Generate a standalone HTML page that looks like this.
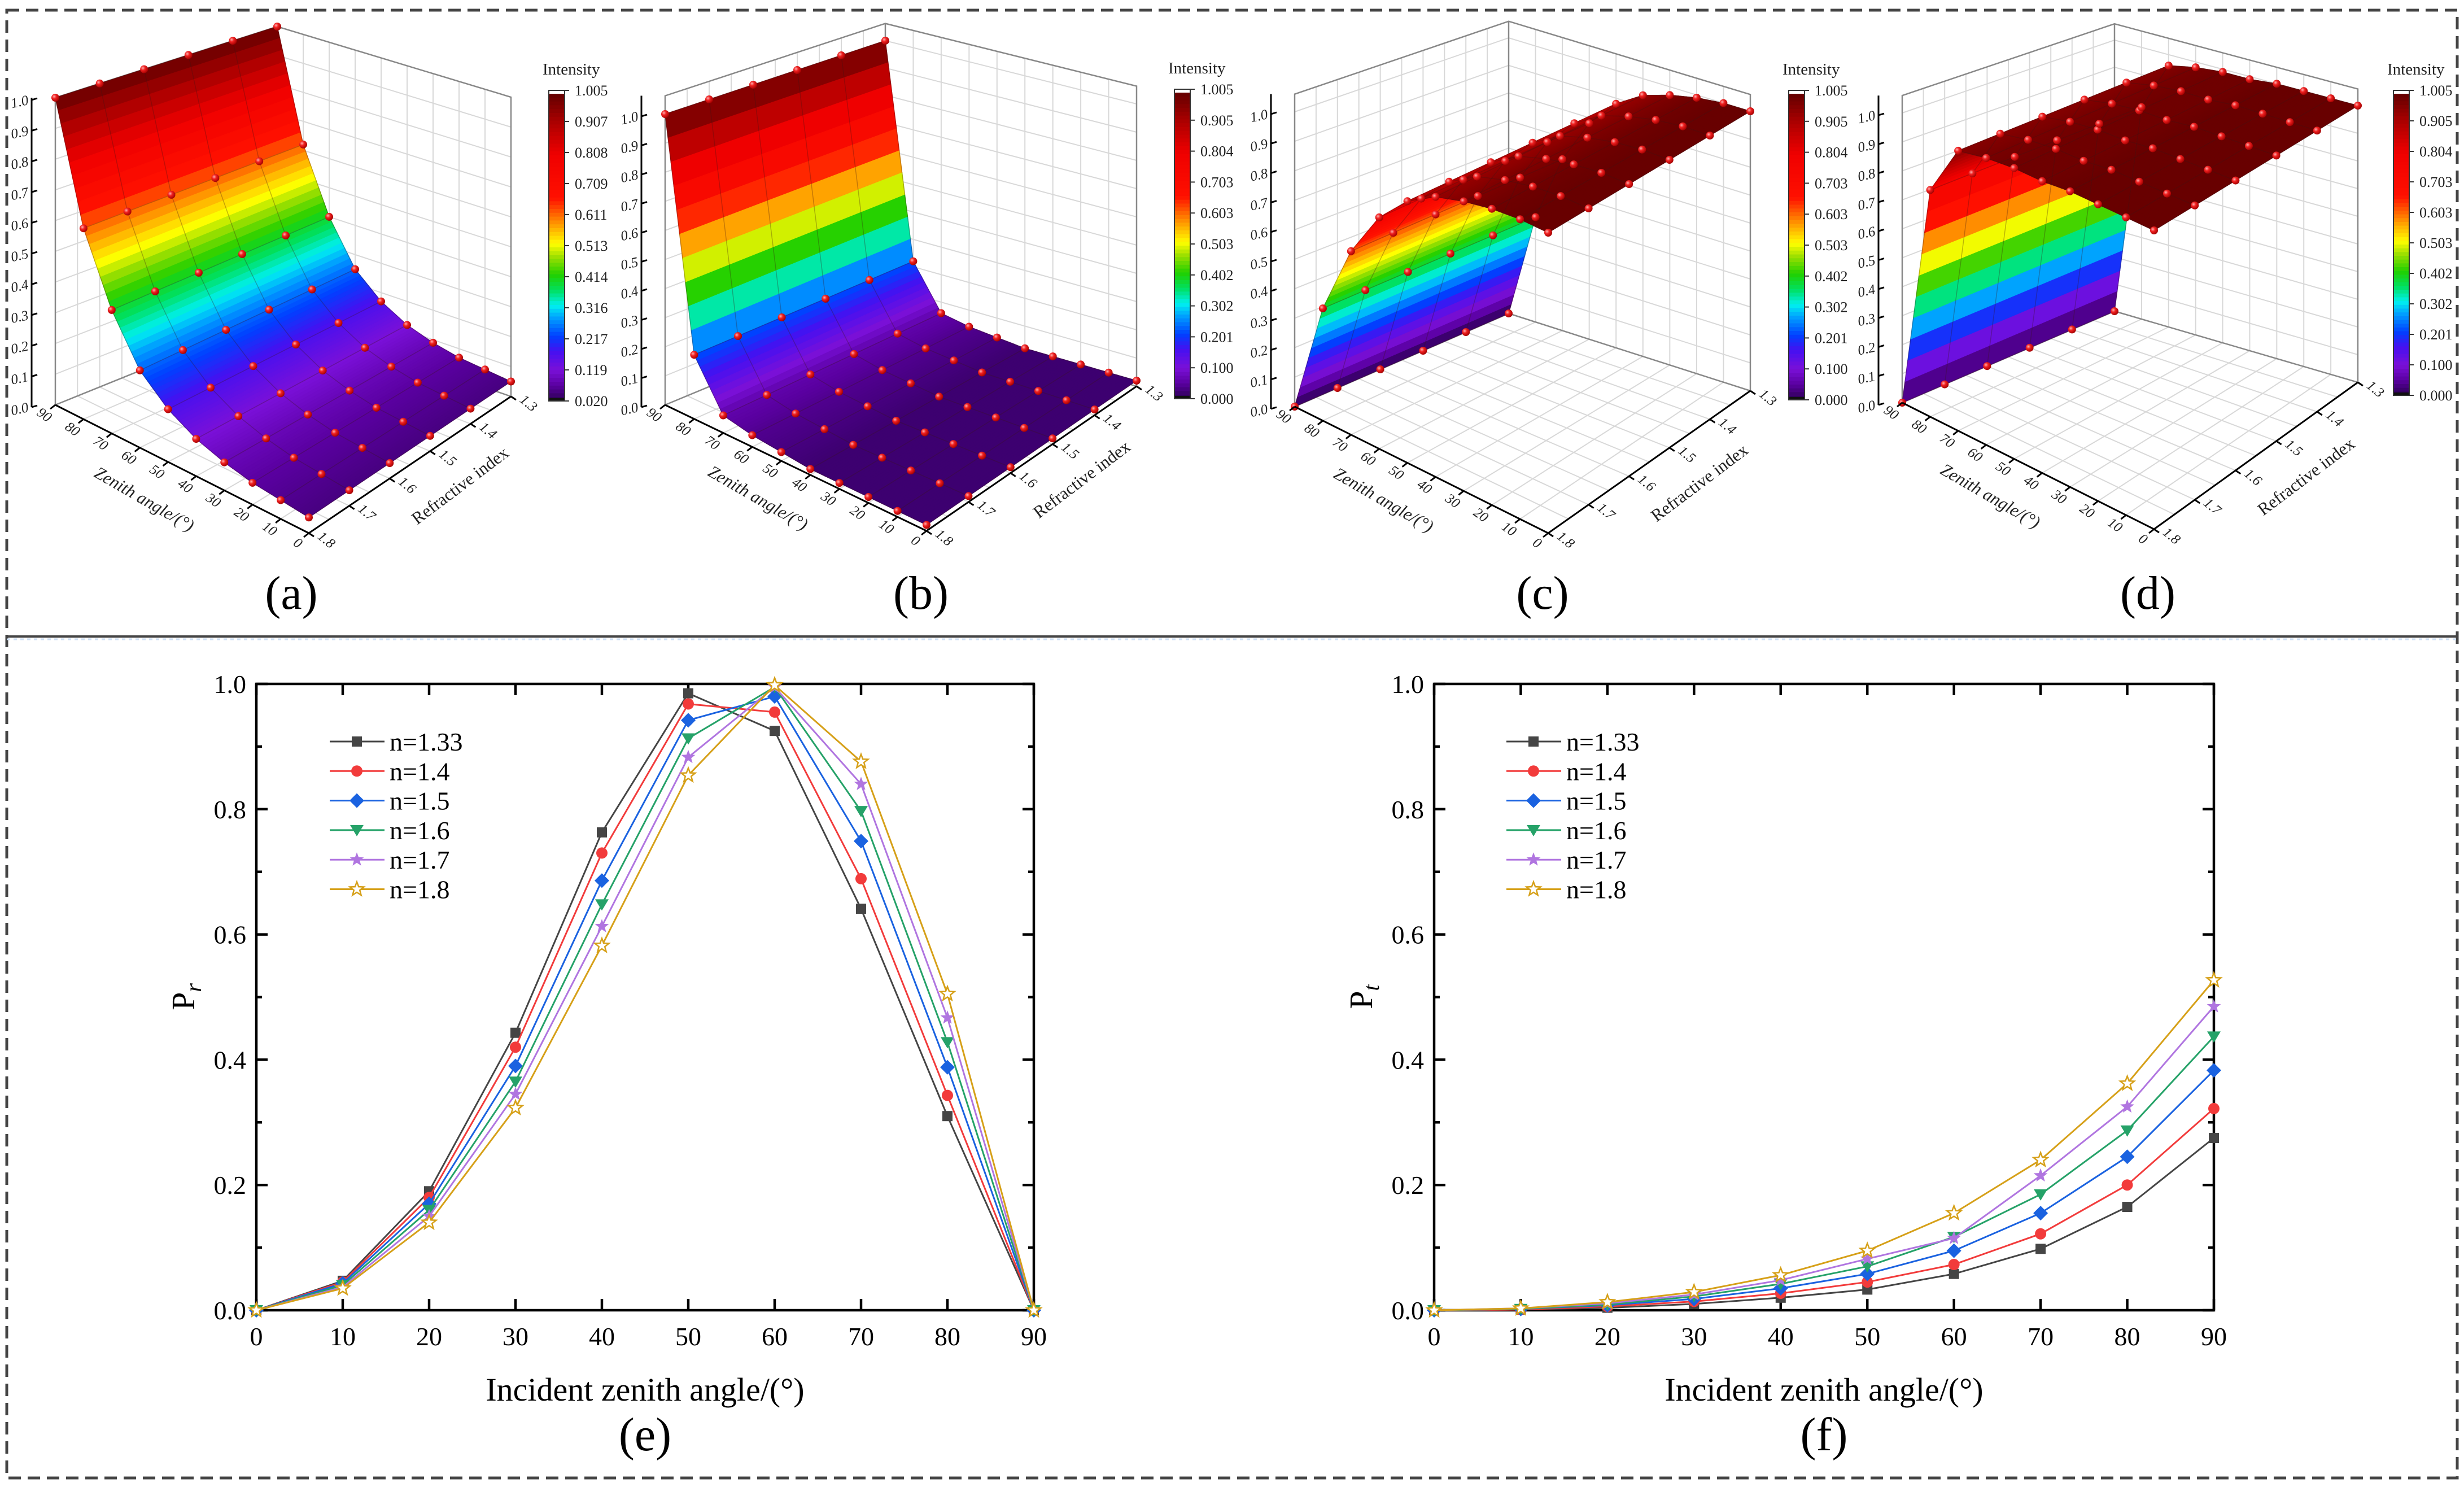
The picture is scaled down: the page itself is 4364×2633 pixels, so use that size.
<!DOCTYPE html>
<html><head><meta charset="utf-8"><style>
html,body{margin:0;padding:0;background:#fff;}
svg{display:block;font-family:"Liberation Serif",serif;}
text{font-family:"Liberation Serif",serif;}
</style></head><body>
<svg id="root" width="4364" height="2633" viewBox="0 0 4364 2633" xmlns="http://www.w3.org/2000/svg" font-family="Liberation Serif, serif">
<defs>
<radialGradient id="dotg" cx="0.35" cy="0.35" r="0.7"><stop offset="0" stop-color="#ffb0b0"/><stop offset="0.4" stop-color="#f02020"/><stop offset="1" stop-color="#a00000"/></radialGradient>
</defs>
<rect x="0" y="0" width="4364" height="2633" fill="#fff"/>
<path d="M12,18 H4352 V2617 H12 Z" fill="none" stroke="#444" stroke-width="5" stroke-dasharray="22,12"/>
<line x1="12" y1="1127" x2="4352" y2="1127" stroke="#444" stroke-width="4"/>
<line x1="12" y1="1132" x2="4352" y2="1132" stroke="#cfe0f5" stroke-width="3" stroke-dasharray="6,6"/>
<g id="top3d"></g>
<g id="chartE"></g>
<g id="chartF"></g>
</svg>
<script>
// ---------- 3D surface data ----------
const zenithAngles = [0,10,20,30,40,50,60,70,80,90];
const refrIndex = [1.3,1.4,1.5,1.6,1.7,1.8];
const surfA = [0.05,0.06,0.07,0.09,0.12,0.17,0.25,0.40,0.62,1.0];
const surfB = [0.02,0.02,0.02,0.02,0.02,0.03,0.04,0.06,0.22,1.0];
const surfC = [1.0,1.0,0.99,0.97,0.94,0.88,0.78,0.62,0.38,0.0];
const surfD = [1.0,1.0,1.0,1.0,0.99,0.99,0.98,0.96,0.78,0.0];
const cbLabelsA = ["1.005","0.907","0.808","0.709","0.611","0.513","0.414","0.316","0.217","0.119","0.020"];
const cbLabelsB = ["1.005","0.905","0.804","0.703","0.603","0.503","0.402","0.302","0.201","0.100","0.000"];
const zTicks3d = ["0.0","0.1","0.2","0.3","0.4","0.5","0.6","0.7","0.8","0.9","1.0"];

// ---------- line chart data ----------
const xAngles = [0,10,20,30,40,50,60,70,80,90];
const pr133 = [0,0.047,0.19,0.443,0.763,0.985,0.925,0.641,0.31,0];
const pr14  = [0,0.045,0.18,0.42,0.73,0.968,0.955,0.689,0.343,0];
const pr15  = [0,0.043,0.17,0.39,0.686,0.942,0.98,0.749,0.388,0];
const pr16  = [0,0.040,0.16,0.365,0.648,0.913,0.995,0.797,0.428,0];
const pr17  = [0,0.037,0.15,0.345,0.613,0.883,0.995,0.84,0.467,0];
const pr18  = [0,0.035,0.14,0.323,0.582,0.854,0.998,0.876,0.505,0];
const pt133 = [0,0.001,0.004,0.010,0.020,0.033,0.058,0.098,0.165,0.275];
const pt14  = [0,0.001,0.006,0.014,0.027,0.045,0.073,0.122,0.200,0.322];
const pt15  = [0,0.002,0.008,0.018,0.035,0.058,0.095,0.155,0.245,0.383];
const pt16  = [0,0.002,0.009,0.022,0.042,0.070,0.117,0.185,0.287,0.437];
const pt17  = [0,0.003,0.011,0.025,0.048,0.082,0.115,0.215,0.325,0.485];
const pt18  = [0,0.003,0.013,0.029,0.056,0.095,0.155,0.240,0.362,0.527];
const seriesNames = ["n=1.33","n=1.4","n=1.5","n=1.6","n=1.7","n=1.8"];
const xTickLabels = ["0","10","20","30","40","50","60","70","80","90"];
const yTickLabels = ["0.0","0.2","0.4","0.6","0.8","1.0"];

const NS="http://www.w3.org/2000/svg";
function mk(tag, attrs, parent){const e=document.createElementNS(NS,tag);for(const k in attrs)e.setAttribute(k,attrs[k]);parent.appendChild(e);return e;}

const cstops=[[0,[42,0,80]],[0.05,[90,0,160]],[0.10,[122,16,216]],[0.16,[70,16,240]],[0.21,[0,64,255]],[0.27,[0,160,255]],[0.31,[0,240,240]],[0.36,[0,224,96]],[0.41,[32,208,0]],[0.47,[160,224,0]],[0.51,[255,255,0]],[0.56,[255,176,0]],[0.61,[255,96,0]],[0.66,[255,16,0]],[0.80,[240,0,0]],[0.90,[176,0,0]],[0.96,[130,0,0]],[1,[100,0,0]]];
function cmap(t){t=Math.max(0,Math.min(1,t));for(let i=1;i<cstops.length;i++){if(t<=cstops[i][0]){const a=cstops[i-1],b=cstops[i];const f=(t-a[0])/(b[0]-a[0]);const c=a[1].map((v,k)=>Math.round(v+(b[1][k]-v)*f));return `rgb(${c[0]},${c[1]},${c[2]})`;}}return "rgb(100,0,0)";}

const panels=[
 {id:"a",vals:surfA,L:[98,717],F:[547,944],R:[905,702],B:[491,558],h:{L:544,F:555,R:530,B:511},zTop:1.0,vmin:0.02,vmax:1.005,cbx:972,cby0:160,cby1:710,cbl:cbLabelsA,lx:516},
 {id:"b",vals:surfB,L:[1178,717],F:[1641,940],R:[2013,684],B:[1568,555],h:{L:515,F:525,R:500,B:483},zTop:1.063,vmin:0,vmax:1.005,cbx:2080,cby0:158,cby1:706,cbl:cbLabelsB,lx:1631},
 {id:"c",vals:surfC,L:[2293,720],F:[2742,944],R:[3100,692],B:[2672,555],h:{L:522,F:532,R:495,B:488},zTop:1.06,vmin:0,vmax:1.005,cbx:3168,cby0:160,cby1:708,cbl:cbLabelsB,lx:2732},
 {id:"d",vals:surfD,L:[3369,713],F:[3815,937],R:[4176,677],B:[3745,551],h:{L:513,F:529,R:490,B:480},zTop:1.06,vmin:0,vmax:1.005,cbx:4239,cby0:160,cby1:700,cbl:cbLabelsB,lx:3804}
];

const top3d=document.getElementById('top3d');
panels.forEach(p=>{
  const g=mk('g',{},top3d);
  
  
  function proj(a,n,z){
    const u=a/90, v=(1.8-n)/0.5;
    const w=[(1-u)*(1-v),u*(1-v),(1-u)*v,u*v];
    const x=p.F[0]*w[0]+p.L[0]*w[1]+p.R[0]*w[2]+p.B[0]*w[3];
    const y=p.F[1]*w[0]+p.L[1]*w[1]+p.R[1]*w[2]+p.B[1]*w[3];
    const h=p.h.F*w[0]+p.h.L*w[1]+p.h.R*w[2]+p.h.B*w[3];
    return [x,y-z*h];
  }
  const pt=q=>q[0].toFixed(1)+','+q[1].toFixed(1);
  const wallL=mk('polygon',{points:[proj(90,1.8,0),proj(90,1.3,0),proj(90,1.3,p.zTop),proj(90,1.8,p.zTop)].map(pt).join(' '),fill:'#fff',stroke:'none'},g);
  
  
  const grid=mk('g',{stroke:'#d8d8d8','stroke-width':2,fill:'none'},g);
  
  
  for(let z=0.1;z<=p.zTop+1e-6;z+=0.1){
    mk('polyline',{points:[proj(90,1.8,z),proj(90,1.3,z),proj(0,1.3,z)].map(pt).join(' ')},grid);
  }
  for(let n=1.3;n<=1.8001;n+=0.05){
    mk('line',{x1:proj(90,n,0)[0],y1:proj(90,n,0)[1],x2:proj(90,n,p.zTop)[0],y2:proj(90,n,p.zTop)[1]},grid);
    mk('line',{x1:proj(90,n,0)[0],y1:proj(90,n,0)[1],x2:proj(0,n,0)[0],y2:proj(0,n,0)[1]},grid);
  }
  for(let a=0;a<=90;a+=10){
    mk('line',{x1:proj(a,1.3,0)[0],y1:proj(a,1.3,0)[1],x2:proj(a,1.3,p.zTop)[0],y2:proj(a,1.3,p.zTop)[1]},grid);
    mk('line',{x1:proj(a,1.3,0)[0],y1:proj(a,1.3,0)[1],x2:proj(a,1.8,0)[0],y2:proj(a,1.8,0)[1]},grid);
  }
  const frame=mk('polyline',{points:[proj(90,1.8,0),proj(90,1.8,p.zTop),proj(90,1.3,p.zTop),proj(0,1.3,p.zTop),proj(0,1.3,0),proj(90,1.3,0),proj(90,1.8,0)].map(pt).join(' '),fill:'none',stroke:'#888','stroke-width':2.5},g);
  
  
  mk('line',{x1:proj(90,1.3,0)[0],y1:proj(90,1.3,0)[1],x2:proj(90,1.3,p.zTop)[0],y2:proj(90,1.3,p.zTop)[1],stroke:'#888','stroke-width':2.5},g);
  const surf=mk('g',{},g);
  
  
  const S=10;
  const valAt=a=>{const i=Math.min(8,Math.floor(a/10));const f=(a-zenithAngles[i])/10;return p.vals[i]+(p.vals[i+1]-p.vals[i])*f;};
  for(let i=8;i>=0;i--){
    for(let s=S-1;s>=0;s--){
      const a0=zenithAngles[i]+10*s/S, a1=zenithAngles[i]+10*(s+1)/S;
      const z0=valAt(a0), z1=valAt(a1);
      const col=cmap(((z0+z1)/2-p.vmin)/(p.vmax-p.vmin));
      for(let j=0;j<5;j++){
        const n0=refrIndex[j], n1=refrIndex[j+1];
        mk('polygon',{points:[proj(a0,n0,z0),proj(a1,n0,z1),proj(a1,n1,z1),proj(a0,n1,z0)].map(pt).join(' '),fill:col,stroke:col,'stroke-width':1.2},surf);
      }
    }
  }
  const mesh=mk('g',{stroke:'rgba(60,20,20,0.3)','stroke-width':1.5,fill:'none'},g);
  
  
  zenithAngles.forEach((a,i)=>{mk('polyline',{points:refrIndex.map(n=>pt(proj(a,n,p.vals[i]))).join(' ')},mesh);});
  refrIndex.forEach(n=>{mk('polyline',{points:zenithAngles.map((a,i)=>pt(proj(a,n,p.vals[i]))).join(' ')},mesh);});
  const dots=mk('g',{},g);
  
  
  zenithAngles.forEach((a,i)=>refrIndex.forEach(n=>{const q=proj(a,n,p.vals[i]);const c=mk('circle',{cx:q[0].toFixed(1),cy:q[1].toFixed(1),r:7,fill:'url(#dotg)'},dots);}));
  const ax=mk('g',{stroke:'#000','stroke-width':3,fill:'none'},g);
  
  
  const L0=proj(90,1.8,0), F0=proj(0,1.8,0), R0=proj(0,1.3,0);
  mk('line',{x1:L0[0],y1:L0[1],x2:F0[0],y2:F0[1]},ax);
  mk('line',{x1:F0[0],y1:F0[1],x2:R0[0],y2:R0[1]},ax);
  const zx=L0[0]-42;
  const Ltop=proj(90,1.8,p.zTop);
  mk('line',{x1:zx,y1:L0[1]+4,x2:zx,y2:Ltop[1]},ax);
  const tx=mk('g',{'font-size':25,fill:'#222','font-style':'italic'},g);
  
  
  zTicks3d.forEach((lab,k)=>{const z=k*0.1;const y=proj(90,1.8,z)[1]+4;mk('line',{x1:zx,y1:y,x2:zx+10,y2:y-3,stroke:'#000','stroke-width':3},g);const t=mk('text',{x:zx-6,y:y+8,'text-anchor':'end',transform:`rotate(-12 ${zx-6} ${y})`},tx);t.textContent=lab;});
  zenithAngles.forEach(a=>{const q=proj(a,1.8,0);mk('line',{x1:q[0],y1:q[1],x2:q[0]-9,y2:q[1]+7,stroke:'#000','stroke-width':3},g);const x=q[0]-24,y=q[1]+24;const t=mk('text',{x:x,y:y,'text-anchor':'middle',transform:`rotate(35 ${x} ${y})`},tx);t.textContent=String(a);});
  refrIndex.forEach(n=>{const q=proj(0,n,0);mk('line',{x1:q[0],y1:q[1],x2:q[0]+9,y2:q[1]+6,stroke:'#000','stroke-width':3},g);const x=q[0]+26,y=q[1]+18;const t=mk('text',{x:x,y:y,'text-anchor':'middle',transform:`rotate(40 ${x} ${y})`},tx);t.textContent=n.toFixed(1);});
  const mz=[(L0[0]+F0[0])/2-72,(L0[1]+F0[1])/2+62];
  const zt=mk('text',{x:mz[0],y:mz[1],'font-size':31,'font-style':'italic','text-anchor':'middle',fill:'#222',transform:`rotate(30 ${mz[0]} ${mz[1]})`},g);
  zt.textContent='Zenith angle/(°)';
  
  
  const mr=[(F0[0]+R0[0])/2+95,(F0[1]+R0[1])/2+45];
  const rt=mk('text',{x:mr[0],y:mr[1],'font-size':31,'text-anchor':'middle',fill:'#222',transform:`rotate(-37 ${mr[0]} ${mr[1]})`},g);
  rt.textContent='Refractive index';
  
  
  const cg=mk('g',{},g);
  
  
  const N=80, hh=(p.cby1-p.cby0);
  for(let k=0;k<N;k++){mk('rect',{x:p.cbx,y:(p.cby0+6+(hh-6)*k/N).toFixed(2),width:28,height:((hh-6)/N+0.8).toFixed(2),fill:cmap(1-(k+0.5)/N)},cg);}
  mk('rect',{x:p.cbx,y:p.cby1-5,width:28,height:5,fill:'#111'},cg);
  mk('rect',{x:p.cbx,y:p.cby0,width:28,height:hh,fill:'none',stroke:'#333','stroke-width':2},cg);
  p.cbl.forEach((lab,k)=>{const y=p.cby0+hh*k/10;mk('line',{x1:p.cbx+28,y1:y,x2:p.cbx+36,y2:y,stroke:'#333','stroke-width':2},cg);const t=mk('text',{x:p.cbx+46,y:y+9,'font-size':26,fill:'#222'},cg);t.textContent=lab;});
  const it=mk('text',{x:p.cbx-11,y:p.cby0-28,'font-size':29,fill:'#222'},cg);
  it.textContent='Intensity';
  
  
  const pl=mk('text',{x:p.lx,y:1078,'font-size':84,'text-anchor':'middle',fill:'#000'},g);
  pl.textContent='('+p.id+')';
  
  
});

const seriesColors=["#454545","#f23b3b","#1a62e0","#25a268","#b075e0","#d6a018"];
const markerKinds=["square","circle","diamond","tri","star","ostar"];
function starPts(cx,cy,R,r){let s=[];for(let k=0;k<10;k++){const ang=-Math.PI/2+k*Math.PI/5;const rr=k%2?r:R;s.push((cx+rr*Math.cos(ang)).toFixed(1)+','+(cy+rr*Math.sin(ang)).toFixed(1));}return s.join(' ');}
function marker(parent,kind,x,y,col){
  let e;
  if(kind==='square') e=mk('rect',{x:x-9,y:y-9,width:18,height:18,fill:col},parent);
  else if(kind==='circle') e=mk('circle',{cx:x,cy:y,r:10,fill:col},parent);
  else if(kind==='diamond') e=mk('polygon',{points:`${x},${y-13} ${x+13},${y} ${x},${y+13} ${x-13},${y}`,fill:col},parent);
  else if(kind==='tri') e=mk('polygon',{points:`${x-12},${y-9} ${x+12},${y-9} ${x},${y+11}`,fill:col},parent);
  else if(kind==='star') e=mk('polygon',{points:starPts(x,y,13,5.5),fill:col},parent);
  else e=mk('polygon',{points:starPts(x,y,13,5.5),fill:'#fff',stroke:col,'stroke-width':2.5},parent);
  
  
}
function lineChart(gid,series,left,right,ylab,legX,labelTxt){
  const g=document.getElementById(gid);
  const top=1211, bottom=2320;
  const xs=v=>left+(v/90)*(right-left);
  const ys=v=>bottom-v*(bottom-top);
  const ax=mk('g',{stroke:'#000','stroke-width':4.5,fill:'none'},g);
  
  
  mk('rect',{x:left,y:top,width:right-left,height:bottom-top},ax);
  const tl=mk('g',{'font-size':46,fill:'#000'},g);
  
  
  xTickLabels.forEach((lab,k)=>{const v=xAngles[k];const x=xs(v);mk('line',{x1:x,y1:bottom,x2:x,y2:bottom-20},ax);mk('line',{x1:x,y1:top,x2:x,y2:top+20},ax);const t=mk('text',{x:x,y:bottom+62,'text-anchor':'middle'},tl);t.textContent=lab;});
  for(let k=0;k<=10;k++){const y=ys(k/10);const len=k%2?10:20;mk('line',{x1:left,y1:y,x2:left+len,y2:y},ax);mk('line',{x1:right,y1:y,x2:right-len,y2:y},ax);}
  yTickLabels.forEach((lab,k)=>{const y=ys(k*0.2);const t=mk('text',{x:left-18,y:y+16,'text-anchor':'end'},tl);t.textContent=lab;});
  series.forEach((arr,si)=>{
    const sg=mk('g',{},g);
    
    
    mk('polyline',{points:arr.map((v,i)=>xs(xAngles[i]).toFixed(1)+','+ys(v).toFixed(1)).join(' '),fill:'none',stroke:seriesColors[si],'stroke-width':3},sg);
    arr.forEach((v,i)=>marker(sg,markerKinds[si],xs(xAngles[i]),ys(v),seriesColors[si]));
  });
  const lg=mk('g',{},g);
  
  
  seriesNames.forEach((nm,si)=>{
    const y=1313+si*52.3;
    const le=mk('g',{},lg);
    
    
    mk('line',{x1:legX,y1:y,x2:legX+97,y2:y,stroke:seriesColors[si],'stroke-width':3},le);
    marker(le,markerKinds[si],legX+48,y,seriesColors[si]);
    const t=mk('text',{x:legX+106,y:y+16,'font-size':46,fill:'#000'},le);t.textContent=nm;
  });
  const xt=mk('text',{x:(left+right)/2,y:2480,'font-size':58,'text-anchor':'middle',fill:'#000'},g);
  xt.textContent='Incident zenith angle/(°)';
  
  
  const yx=left-110, yy=1765;
  const yt=mk('text',{x:yx,y:yy,'font-size':58,'text-anchor':'middle',fill:'#000',transform:`rotate(-90 ${yx} ${yy})`},g);
  
  
  const t1=mk('tspan',{},yt);t1.textContent='P';
  const t2=mk('tspan',{'font-style':'italic','font-size':40,dy:12},yt);t2.textContent=ylab;
  const pl=mk('text',{x:(left+right)/2,y:2568,'font-size':84,'text-anchor':'middle',fill:'#000'},g);
  pl.textContent=labelTxt;
  
  
}
lineChart('chartE',[pr133,pr14,pr15,pr16,pr17,pr18],454,1831,'r',584,'(e)');
lineChart('chartF',[pt133,pt14,pt15,pt16,pt17,pt18],2540,3921,'t',2668,'(f)');
</script>
</body></html>
